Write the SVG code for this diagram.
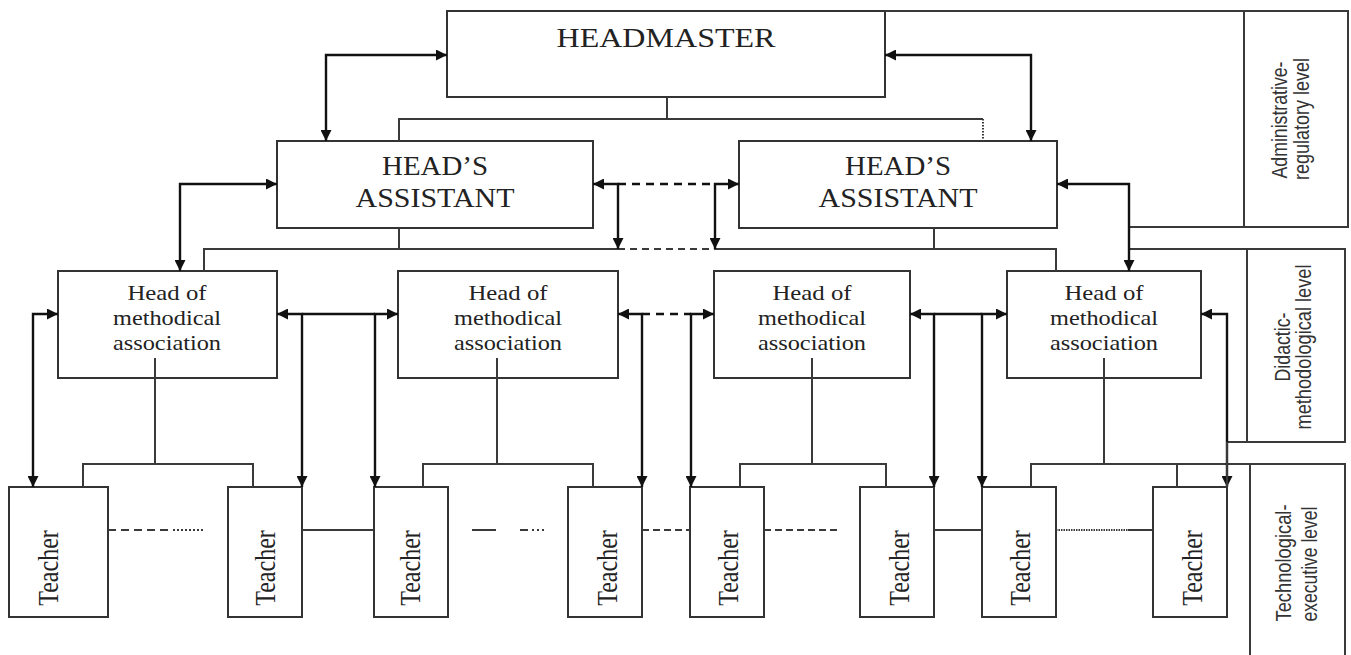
<svg xmlns="http://www.w3.org/2000/svg" width="1351" height="655" viewBox="0 0 1351 655">
<style>
.bx{fill:#fff;stroke:#333;stroke-width:2}
.ln{fill:none;stroke:#3a3a3a;stroke-width:2}
.ar{fill:none;stroke:#111;stroke-width:2.4}
.dash{stroke-dasharray:8 5}
.dot{stroke-dasharray:1.5 1.5}
.sf{font-family:"Liberation Serif","Times New Roman",serif;fill:#222;text-anchor:middle}
.ss{font-family:"Liberation Sans",Arial,sans-serif;fill:#333;text-anchor:middle;font-size:18px}
.big{font-size:27px}
.ma{font-size:22px}
.tc{font-size:24px}
</style>
<defs>
<marker id="ah" viewBox="0 0 10 10" refX="10" refY="5" markerWidth="11" markerHeight="11" markerUnits="userSpaceOnUse" orient="auto-start-reverse"><path d="M0,0 L10,5 L0,10 z" fill="#111"/></marker>
</defs>

<g id="headmaster">
<rect class="bx" x="447" y="11" width="438" height="86"/>
<text class="sf big" x="666" y="47" textLength="219" lengthAdjust="spacingAndGlyphs">HEADMASTER</text>
</g>
<g id="assistant1">
<rect class="bx" x="277" y="141" width="316" height="87"/>
<text class="sf big" x="435" y="175" textLength="106" lengthAdjust="spacingAndGlyphs">HEAD’S</text>
<text class="sf big" x="435" y="207" textLength="159" lengthAdjust="spacingAndGlyphs">ASSISTANT</text>
</g>
<g id="assistant2">
<rect class="bx" x="739" y="141" width="318" height="87"/>
<text class="sf big" x="898" y="175" textLength="106" lengthAdjust="spacingAndGlyphs">HEAD’S</text>
<text class="sf big" x="898" y="207" textLength="159" lengthAdjust="spacingAndGlyphs">ASSISTANT</text>
</g>

<g id="ma1">
<rect class="bx" x="58" y="271" width="219" height="107"/>
<text class="sf ma" x="167" y="300" textLength="79" lengthAdjust="spacingAndGlyphs">Head of</text>
<text class="sf ma" x="167" y="325" textLength="108" lengthAdjust="spacingAndGlyphs">methodical</text>
<text class="sf ma" x="167" y="350" textLength="108" lengthAdjust="spacingAndGlyphs">association</text>
</g>
<g id="ma2">
<rect class="bx" x="398" y="271" width="220" height="107"/>
<text class="sf ma" x="508" y="300" textLength="79" lengthAdjust="spacingAndGlyphs">Head of</text>
<text class="sf ma" x="508" y="325" textLength="108" lengthAdjust="spacingAndGlyphs">methodical</text>
<text class="sf ma" x="508" y="350" textLength="108" lengthAdjust="spacingAndGlyphs">association</text>
</g>
<g id="ma3">
<rect class="bx" x="714" y="271" width="196" height="107"/>
<text class="sf ma" x="812" y="300" textLength="79" lengthAdjust="spacingAndGlyphs">Head of</text>
<text class="sf ma" x="812" y="325" textLength="108" lengthAdjust="spacingAndGlyphs">methodical</text>
<text class="sf ma" x="812" y="350" textLength="108" lengthAdjust="spacingAndGlyphs">association</text>
</g>
<g id="ma4">
<rect class="bx" x="1007" y="271" width="194" height="107"/>
<text class="sf ma" x="1104" y="300" textLength="79" lengthAdjust="spacingAndGlyphs">Head of</text>
<text class="sf ma" x="1104" y="325" textLength="108" lengthAdjust="spacingAndGlyphs">methodical</text>
<text class="sf ma" x="1104" y="350" textLength="108" lengthAdjust="spacingAndGlyphs">association</text>
</g>

<g id="t1"><rect class="bx" x="9" y="487" width="99" height="130"/><text class="sf tc" transform="translate(58,568) scale(1.27,1) rotate(-90)">Teacher</text></g>
<g id="t2"><rect class="bx" x="228" y="487" width="74" height="130"/><text class="sf tc" transform="translate(275,568) scale(1.27,1) rotate(-90)">Teacher</text></g>
<g id="t3"><rect class="bx" x="374" y="487" width="74" height="130"/><text class="sf tc" transform="translate(420,568) scale(1.27,1) rotate(-90)">Teacher</text></g>
<g id="t4"><rect class="bx" x="568" y="487" width="74" height="130"/><text class="sf tc" transform="translate(617,568) scale(1.27,1) rotate(-90)">Teacher</text></g>
<g id="t5"><rect class="bx" x="690" y="487" width="74" height="130"/><text class="sf tc" transform="translate(738,568) scale(1.27,1) rotate(-90)">Teacher</text></g>
<g id="t6"><rect class="bx" x="860" y="487" width="74" height="130"/><text class="sf tc" transform="translate(909,568) scale(1.27,1) rotate(-90)">Teacher</text></g>
<g id="t7"><rect class="bx" x="982" y="487" width="74" height="130"/><text class="sf tc" transform="translate(1030,568) scale(1.27,1) rotate(-90)">Teacher</text></g>
<g id="t8"><rect class="bx" x="1153" y="487" width="74" height="130"/><text class="sf tc" transform="translate(1202,568) scale(1.27,1) rotate(-90)">Teacher</text></g>

<g id="level-admin">
<text class="ss" transform="translate(1287,120) scale(1.18,1) rotate(-90)" textLength="117" lengthAdjust="spacingAndGlyphs">Administrative-</text>
<text class="ss" transform="translate(1309,119) scale(1.18,1) rotate(-90)" textLength="122" lengthAdjust="spacingAndGlyphs">regulatory level</text>
</g>
<g id="level-didactic">
<text class="ss" transform="translate(1290,347) scale(1.18,1) rotate(-90)" textLength="69" lengthAdjust="spacingAndGlyphs">Didactic-</text>
<text class="ss" transform="translate(1311,347) scale(1.18,1) rotate(-90)" textLength="165" lengthAdjust="spacingAndGlyphs">methodological level</text>
</g>
<g id="level-tech">
<text class="ss" transform="translate(1291,563) scale(1.18,1) rotate(-90)" textLength="117" lengthAdjust="spacingAndGlyphs">Technological-</text>
<text class="ss" transform="translate(1317,564) scale(1.18,1) rotate(-90)" textLength="115" lengthAdjust="spacingAndGlyphs">executive level</text>
</g>

<g id="connectors">
<path class="ln" d="M667,97 V119 M399,141 V119 H983"/>
<path class="ln dot" d="M983,119 V141"/>
<path class="ln" d="M399,228 V249 M934,228 V249 M204,271 V249 H618 M715,249 H1056 V271"/>
<path class="ln" d="M618,249 H715" style="stroke-dasharray:7 5"/>
<path class="ln" d="M155,358 V464 M83,487 V464 H253 V487"/>
<path class="ln" d="M497,358 V464 M423,487 V464 H593 V487"/>
<path class="ln" d="M812,358 V464 M740,487 V464 H886 V487"/>
<path class="ln" d="M1104,358 V464 M1031,487 V464 H1345 V655 M1177,464 V487 M1250,464 V655"/>
<path class="ln" d="M885,11 H1348 V227 H1129 M1244,11 V227"/>
<path class="ln" d="M1129,249 H1345 V442 H1227 M1247,249 V442"/>
<path class="ar" d="M447,55 H326 V141" marker-start="url(#ah)" marker-end="url(#ah)"/>
<path class="ar" d="M885,55 H1031 V141" marker-start="url(#ah)" marker-end="url(#ah)"/>
<path class="ar" d="M277,184 H180 V271" marker-start="url(#ah)" marker-end="url(#ah)"/>
<path class="ar" d="M1057,184 H1129 V271" marker-start="url(#ah)" marker-end="url(#ah)"/>
<path class="ar" d="M593,184 H618 V249" marker-start="url(#ah)" marker-end="url(#ah)"/>
<path class="ar" d="M739,184 H715 V249" marker-start="url(#ah)" marker-end="url(#ah)"/>
<path class="ar" d="M618,184 H715" style="stroke-dasharray:8 6" stroke-width="2"/>
<path class="ar" d="M58,314 H33 V487" marker-start="url(#ah)" marker-end="url(#ah)"/>
<path class="ar" d="M277,314 H302 V487" marker-start="url(#ah)" marker-end="url(#ah)"/>
<path class="ar" d="M398,314 H375 V487" marker-start="url(#ah)" marker-end="url(#ah)"/>
<path class="ar" d="M302,314 H375" stroke-width="2"/>
<path class="ar" d="M618,314 H642 V487" marker-start="url(#ah)" marker-end="url(#ah)"/>
<path class="ar" d="M714,314 H691 V487" marker-start="url(#ah)" marker-end="url(#ah)"/>
<path class="ar" d="M642,314 H691" style="stroke-dasharray:8 6" stroke-width="2"/>
<path class="ar" d="M910,314 H934 V487" marker-start="url(#ah)" marker-end="url(#ah)"/>
<path class="ar" d="M1007,314 H982 V487" marker-start="url(#ah)" marker-end="url(#ah)"/>
<path class="ar" d="M934,314 H982" stroke-width="2"/>
<path class="ar" d="M1201,314 H1227 V487" marker-start="url(#ah)" marker-end="url(#ah)"/>
<path class="ln" d="M1227,487 V442"/>
<path class="ln" d="M108,530 H173" style="stroke-dasharray:8 5"/>
<path class="ln" d="M173,530 H203" style="stroke-dasharray:2 2"/>
<path class="ln" d="M302,530 H374"/>
<path class="ln" d="M472,530 H496 M520,530 H528"/>
<path class="ln" d="M532,530 H546" style="stroke-dasharray:2 3"/>
<path class="ln" d="M642,530 H690" style="stroke-dasharray:7 4"/>
<path class="ln" d="M764,530 H837" style="stroke-dasharray:7 4"/>
<path class="ln" d="M934,530 H982"/>
<path class="ln" d="M1056,530 H1128" style="stroke-dasharray:1.5 1"/>
<path class="ln" d="M1128,530 H1153"/>
</g>
</svg>
